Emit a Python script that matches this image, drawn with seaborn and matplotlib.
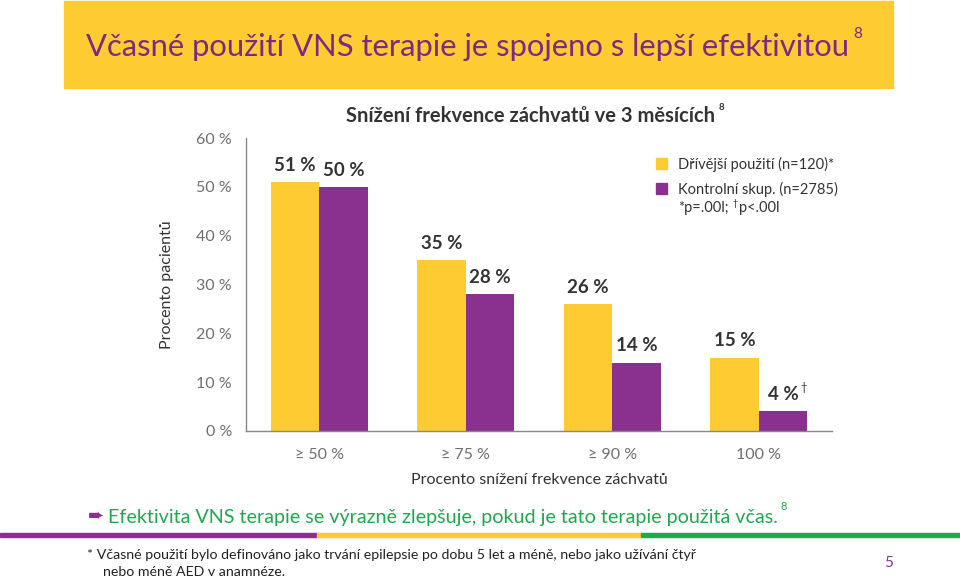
#!/usr/bin/env python3
"""Early VNS therapy vs control group - grouped bar chart."""

import pandas as pd
import matplotlib
matplotlib.use("Agg")
import matplotlib.pyplot as plt
from matplotlib.patches import Rectangle
import seaborn as sns

# data
categories = ["≥ 50 %", "≥ 75 %", "≥ 90 %", "100 %"]
groups = ["Dřívější použití (n=120)*", "Kontrolní skup. (n=2785)"]
early = [51, 35, 26, 15]
control = [50, 28, 14, 4]
yticks = [0, 10, 20, 30, 40, 50, 60]

YELLOW = "#FFCB33"
PURPLE = "#8A3190"
GREEN = "#1FA84F"
GRAY = "#6E6E6E"
DARK = "#333333"

sns.set_theme(style="white")
plt.rcParams["font.family"] = ["Lato", "DejaVu Sans"]

df = pd.DataFrame({
    "kategorie": categories * 2,
    "skupina": [groups[0]] * 4 + [groups[1]] * 4,
    "hodnota": early + control,
})

fig = plt.figure(figsize=(9.6, 5.8), dpi=100)
renderer = fig.canvas.get_renderer()


def px(x, y):
    """pixel coords (from top-left) -> figure fraction"""
    return x / 960, 1 - y / 580


def sup_after(txt, s, dx=2, dy=-10, **kw):
    """put a superscript right after the end of a text artist"""
    bb = txt.get_window_extent(renderer)
    x0 = bb.x1 + dx
    y0 = (bb.y0 + bb.y1) / 2 - dy
    return fig.text(x0 / 960, y0 / 580, s, va="center", ha="left", **kw)


ax = fig.add_axes([246 / 960, 1 - 431 / 580, (832 - 246) / 960, (431 - 138) / 580])

sns.barplot(data=df, x="kategorie", y="hodnota", hue="skupina", order=categories,
            hue_order=groups, palette=[YELLOW, PURPLE], width=0.66, saturation=1,
            linewidth=0, ax=ax, legend=False)

ax.set_xlim(-0.5, 3.5)
ax.set_ylim(0, 60)
ax.set_yticks(yticks)
ax.set_yticklabels([f"{t} %" for t in yticks], color=GRAY, fontsize=11.5)
ax.set_xticks([0, 1, 2, 3])
ax.set_xticklabels(categories, color=GRAY, fontsize=11.5)
ax.set_xticks([-0.5, 0.5, 1.5, 2.5, 3.5], minor=True)
ax.tick_params(axis="x", which="major", length=0, pad=12)
ax.tick_params(axis="x", which="minor", length=6, color="#888888", width=1, direction="out")
ax.tick_params(axis="y", length=6, color="#888888", width=1, direction="out", pad=4)
ax.set_xlabel("Procento snížení frekvence záchvatů", color=DARK, fontsize=11.5, labelpad=8)
ax.set_ylabel("Procento pacientů", color=DARK, fontsize=11.5, labelpad=16)
sns.despine(ax=ax)
for s in ("left", "bottom"):
    ax.spines[s].set_color("#888888")
    ax.spines[s].set_linewidth(1)

# bar value labels
labels = [f"{v} %" for v in early] + [f"{v} %" for v in control]
last_lab = None
for patch, lab in zip(ax.patches, labels):
    x = patch.get_x() + patch.get_width() / 2
    last_lab = ax.annotate(lab, (x, patch.get_height()), xytext=(0, 6),
                           textcoords="offset points", ha="center", va="bottom",
                           fontsize=13.5, fontweight="bold", color=DARK)
sup_after(last_lab, "†", dx=2, dy=-7, fontsize=8, color=DARK)

# title banner
fig.patches.append(Rectangle(px(64, 88), 829 / 960, 87 / 580,
                             transform=fig.transFigure, color=YELLOW, zorder=0))
title = fig.text(*px(86, 47), "Včasné použití VNS terapie je spojeno s lepší efektivitou",
                 color="#7A2B82", fontsize=22.3, va="center", ha="left")
sup_after(title, "8", dx=4, dy=-13, color="#7A2B82", fontsize=11)

# chart subtitle
sub = fig.text(*px(530, 116), "Snížení frekvence záchvatů ve 3 měsících",
               color=DARK, fontsize=14.5, fontweight="bold", ha="center", va="center")
sup_after(sub, "8", dx=4, dy=-9, color=DARK, fontsize=7, fontweight="bold")

# legend
for i, (g, c) in enumerate(zip(groups, [YELLOW, PURPLE])):
    y = 164 + 25 * i
    fig.patches.append(Rectangle(px(656, y + 5), 11 / 960, 11 / 580,
                                 transform=fig.transFigure, color=c))
    fig.text(*px(678, y), g, color=DARK, fontsize=10.5, va="center")
p1 = fig.text(*px(678, 208), "*p=.00l;", color=DARK, fontsize=10.5, va="center")
dag = sup_after(p1, "†", dx=4, dy=-5, color=DARK, fontsize=6.5)
sup_after(dag, "p<.00l", dx=1, dy=5, color=DARK, fontsize=10.5)

# key message
fig.text(*px(88, 516), "➨", color=PURPLE, fontsize=14, va="center",
         family=["DejaVu Sans"])
msg = fig.text(*px(108, 517),
               "Efektivita VNS terapie se výrazně zlepšuje, pokud je tato terapie použitá včas.",
               color=GREEN, fontsize=14.2, va="center")
sup_after(msg, "8", dx=3, dy=-10, color=GREEN, fontsize=8)

# colour band
for x0, x1, c in [(0, 317, PURPLE), (317, 641, YELLOW), (641, 960, GREEN)]:
    fig.patches.append(Rectangle(px(x0, 537), (x1 - x0) / 960, 4 / 580,
                                 transform=fig.transFigure, color=c))

# footnote
fig.text(*px(87, 555),
         "* Včasné použití bylo definováno jako trvání epilepsie po dobu 5 let a méně, nebo jako užívání čtyř",
         color="#222222", fontsize=10.2, va="center")
fig.text(*px(103, 572), "nebo méně AED v anamnéze.",
         color="#222222", fontsize=10.2, va="center")
fig.text(*px(889, 563), "5", color=PURPLE, fontsize=11, va="center", ha="center")

fig.savefig("out.png", dpi=100)
plt.close(fig)
